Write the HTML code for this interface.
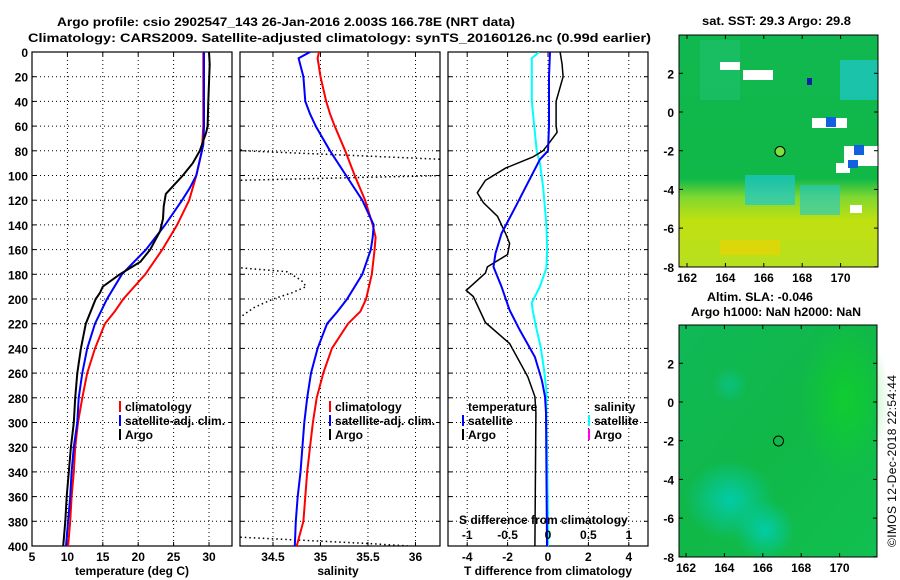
<!DOCTYPE html>
<html><head><meta charset="utf-8"><style>
html,body{margin:0;padding:0;background:#fff;width:900px;height:580px;overflow:hidden}
svg{display:block;font-family:"Liberation Sans",Arial,sans-serif}
.b{font-weight:bold;font-size:12px}
</style></head><body>
<svg id="fig" width="900" height="580" viewBox="0 0 900 580">
<defs>
<clipPath id="c1"><rect x="32" y="52" width="200" height="494"/></clipPath>
<clipPath id="c2"><rect x="240" y="52" width="200" height="494"/></clipPath>
<clipPath id="c3"><rect x="448" y="52" width="200" height="494"/></clipPath>
<linearGradient id="sstg" x1="0" y1="0" x2="0" y2="1">
<stop offset="0" stop-color="#10b850"/><stop offset="0.62" stop-color="#10b848"/>
<stop offset="0.7" stop-color="#80d830"/><stop offset="0.8" stop-color="#c0e010"/><stop offset="1" stop-color="#b8e020"/></linearGradient>
<linearGradient id="slag" x1="0" y1="0" x2="1" y2="1">
<stop offset="0" stop-color="#10b858"/><stop offset="0.5" stop-color="#10b848"/><stop offset="1" stop-color="#10c050"/></linearGradient>
<radialGradient id="cy1"><stop offset="0" stop-color="#00d0c0"/><stop offset="1" stop-color="#00d0c0" stop-opacity="0"/></radialGradient>
<radialGradient id="gr1"><stop offset="0" stop-color="#10d820"/><stop offset="1" stop-color="#10d820" stop-opacity="0"/></radialGradient>
</defs>
<text class="b" x="57" y="26" font-size="14" textLength="458" lengthAdjust="spacingAndGlyphs">Argo profile: csio 2902547_143 26-Jan-2016 2.003S 166.78E (NRT data)</text>
<text class="b" x="28" y="42" font-size="14" textLength="623" lengthAdjust="spacingAndGlyphs">Climatology: CARS2009. Satellite-adjusted climatology: synTS_20160126.nc (0.99d earlier)</text>
<g id="p1"></g>
<g id="p2"></g>
<g id="p3"></g>
<g>
<text class="b" x="702" y="25" textLength="149" lengthAdjust="spacingAndGlyphs" font-size="13">sat. SST: 29.3 Argo: 29.8</text>
<rect x="679" y="35" width="199" height="232" fill="url(#sstg)"/>
<rect x="700" y="40" width="40" height="60" fill="#20c070" opacity="0.6"/>
<rect x="840" y="60" width="38" height="40" fill="#20c8d0" opacity="0.7"/>
<rect x="745" y="175" width="50" height="30" fill="#20c8d0" opacity="0.7"/>
<rect x="800" y="185" width="40" height="30" fill="#20c8d0" opacity="0.6"/>
<rect x="720" y="240" width="60" height="15" fill="#f0d000" opacity="0.6"/>
<rect x="720" y="62" width="20" height="8" fill="#fff"/><rect x="743" y="70" width="30" height="10" fill="#fff"/>
<rect x="812" y="118" width="35" height="10" fill="#fff"/><rect x="844" y="146" width="34" height="20" fill="#fff"/>
<rect x="836" y="163" width="14" height="10" fill="#fff"/><rect x="850" y="205" width="12" height="8" fill="#fff"/>
<rect x="826" y="117" width="10" height="10" fill="#1060e0"/><rect x="854" y="145" width="10" height="10" fill="#1060e0"/>
<rect x="848" y="160" width="10" height="8" fill="#1060e0"/><rect x="807" y="78" width="5" height="7" fill="#0020a0"/>
<rect x="679" y="35" width="199" height="232" fill="none" stroke="#000" stroke-width="1"/>
<circle cx="780" cy="151.5" r="5" fill="#80e040" stroke="#000" stroke-width="1"/>
<g id="m1"></g>
</g>
<g>
<text class="b" x="707" y="301" textLength="106" lengthAdjust="spacingAndGlyphs" font-size="13">Altim. SLA: -0.046</text>
<text class="b" x="691" y="316" textLength="170" lengthAdjust="spacingAndGlyphs" font-size="13">Argo h1000: NaN h2000: NaN</text>
<rect x="679" y="325" width="198" height="232" fill="url(#slag)"/>
<ellipse cx="730" cy="500" rx="45" ry="40" fill="url(#cy1)" opacity="0.8"/>
<ellipse cx="765" cy="530" rx="30" ry="30" fill="url(#cy1)" opacity="0.8"/>
<ellipse cx="730" cy="385" rx="18" ry="18" fill="url(#cy1)" opacity="0.4"/>
<ellipse cx="845" cy="400" rx="45" ry="80" fill="url(#gr1)" opacity="0.6"/>
<rect x="679" y="325" width="198" height="232" fill="none" stroke="#000" stroke-width="1"/>
<circle cx="778.5" cy="441" r="5" fill="none" stroke="#000" stroke-width="1"/>
<g id="m2"></g>
</g>
<text x="0" y="0" font-size="12" transform="translate(896,547) rotate(-90)" textLength="172">©IMOS 12-Dec-2018 22:54:44</text>
</svg>
<script>
// ---- data ----
const tDepth = [0,10,40,60,65,80,90,100,115,125,135,145,160,170,180,190,195,200,220,240,260,280,300,320,340,360,380,400];
const tArgo  = [30.0,30.1,29.9,29.8,29.6,28.7,27.7,26.3,23.9,23.6,23.5,23.1,21.7,20.3,17.4,15.0,14.6,14.0,12.6,11.9,11.4,11.1,10.9,10.5,10.2,9.9,9.7,9.4];
const cDepth = [0,60,80,100,120,140,160,180,200,210,220,240,260,280,300,320,340,360,380,400];
const tClim  = [29.2,29.2,29.0,28.2,27.2,25.5,23.4,21.0,17.9,16.7,15.3,13.9,12.8,12.1,11.5,11.1,10.9,10.6,10.4,10.1];
const sDepth = [0,60,75,90,100,110,120,140,160,180,200,220,240,260,280,300,320,340,360,380,400];
const tSat   = [29.3,29.3,29.2,28.6,28.2,27.3,26.2,23.8,21.1,17.7,15.6,13.9,12.8,12.1,11.6,11.4,10.9,10.6,10.4,10.1,9.8];
const salDepth = [0,5,20,40,50,60,80,100,120,140,150,160,180,200,210,220,240,260,280,300,320,340,360,380,400];
const salClim  = [34.985,34.97,35.0,35.06,35.10,35.15,35.26,35.36,35.47,35.55,35.58,35.57,35.54,35.48,35.42,35.29,35.12,35.03,34.96,34.92,34.89,34.86,34.84,34.82,34.75];
const salSat   = [34.89,34.77,34.82,34.84,34.89,34.95,35.10,35.27,35.44,35.56,35.55,35.53,35.44,35.28,35.18,35.07,34.97,34.90,34.86,34.83,34.81,34.79,34.76,34.74,34.73];
const argoSalDepth = [60,80,87,95,100,104,110,170,175,178,185,190,195,200,207,215,230,390,393,398,405];
const argoSal      = [33,34.2,36.3,38,36.3,34.1,33,33,34.2,34.65,34.8,34.85,34.7,34.5,34.3,34.15,33,33,34.2,35.5,37];
const dDepth = [0,10,20,40,60,65,75,80,85,94,104,114,122,133,147,155,164,174,179,193,198,219,236,263,279,292,400];
const dTArgo = [0.6,0.7,0.75,0.4,0.4,0.45,0,-0.25,-0.75,-2.1,-3.1,-3.5,-3.2,-2.5,-2.1,-1.9,-2.0,-3.0,-3.1,-4.05,-3.7,-3.1,-1.9,-1.0,-0.65,-0.6,-0.65];
const dsDepth = [0,20,60,80,87,106,125,147,163,174,190,209,225,247,266,279,292,400];
const dTSat   = [0.1,0.05,0.05,0,-0.4,-1.0,-1.6,-2.3,-2.6,-2.7,-2.3,-1.9,-1.4,-0.65,-0.3,-0.15,-0.1,-0.05];
const dsSDepth = [0,5,40,80,90,110,140,160,175,190,203,209,225,239,257,274,292,333,373,400];
const dSSat    = [-0.11,-0.2,-0.2,-0.14,-0.1,-0.06,-0.02,-0.01,-0.02,-0.1,-0.2,-0.19,-0.14,-0.09,-0.05,-0.02,-0.02,-0.01,0,0];
const depthTicks = [0,20,40,60,80,100,120,140,160,180,200,220,240,260,280,300,320,340,360,380,400];
const tTicks = [5,10,15,20,25,30];
const sTicks = [34.5,35,35.5,36];
const sTickLabels = ["34.5","35","35.5","36"];
const dTicks = [-4,-2,0,2,4];
const dsTicks = [-1,-0.5,0,0.5,1];
const dsTickLabels = ["-1","-0.5","0","0.5","1"];
const latTicks = [2,0,-2,-4,-6,-8];
const lonTicks = [162,164,166,168,170];

const NS="http://www.w3.org/2000/svg";
function mk(parent,tag,attrs,txt){const e=document.createElementNS(NS,tag);for(const k in attrs)e.setAttribute(k,attrs[k]);if(txt!==undefined)e.textContent=txt;parent.appendChild(e);return e;}
const Y=d=>52+d*494/400;
const X1=t=>32+(t-5)*7.08;
const X2=s=>240+(s-34.153)*95;
const X3=d=>548+d*20.2;
const X3s=s=>548+s*80.8;

function panel(g,x0,clip,xt,xf,labels,title,tx){
  const grid=mk(g,'g',{});
  
  
  depthTicks.forEach(d=>{ if(d>0&&d<400) mk(grid,'line',{x1:x0,x2:x0+200,y1:Y(d),y2:Y(d),stroke:'#000','stroke-dasharray':'1,3'});
    mk(grid,'line',{x1:x0,x2:x0+4,y1:Y(d),y2:Y(d),stroke:'#000'});mk(grid,'line',{x1:x0+196,x2:x0+200,y1:Y(d),y2:Y(d),stroke:'#000'});});
  xt.forEach((t,i)=>{const x=xf(t); if(x>x0+1) mk(grid,'line',{x1:x,x2:x,y1:52,y2:546,stroke:'#000','stroke-dasharray':'1,3'});
    mk(grid,'line',{x1:x,x2:x,y1:542,y2:546,stroke:'#000'});mk(grid,'line',{x1:x,x2:x,y1:52,y2:56,stroke:'#000'});
    const l=mk(g,'text',{x:x,y:561,'text-anchor':'middle',class:'b'},labels[i]);
    
    });
  const r=mk(g,'rect',{x:x0,y:52,width:200,height:494,fill:'none',stroke:'#000','stroke-width':1.2});
  
  
  const tt=mk(g,'text',{x:tx,y:575,'text-anchor':'middle',class:'b'},title);
  
  
}
function line(g,clip,depths,vals,xf,color,w,name,dash){
  const pts=depths.map((d,i)=>xf(vals[i]).toFixed(1)+','+Y(d).toFixed(1)).join(' ');
  const a={points:pts,fill:'none',stroke:color,'stroke-width':w,'clip-path':'url(#'+clip+')'};
  if(dash)a['stroke-dasharray']=dash;
  const p=mk(g,'polyline',a);
  
  
}
function legend(g,x,y,color,txt,name){
  if(color) mk(g,'rect',{x:x-6,y:y-10,width:2,height:11,fill:color});
  const t=mk(g,'text',{x:x,y:y,class:'b'},txt);
  
  
}
const p1=document.getElementById('p1'),p2=document.getElementById('p2'),p3=document.getElementById('p3');
depthTicks.forEach(d=>{const t=mk(p1,'text',{x:28,y:Y(d)+5,'text-anchor':'end',class:'b'},String(d));
  
  });
panel(p1,32,'c1',tTicks,X1,tTicks.map(String),'temperature (deg C)',132);
line(p1,'c1',cDepth,tClim,X1,'#f00',2,'temp-climatology-line');
line(p1,'c1',sDepth,tSat,X1,'#00f',2,'temp-satellite-line');
line(p1,'c1',tDepth,tArgo,X1,'#000',2,'temp-argo-line');
legend(p1,125,411,'#f00','climatology','legend-climatology');
legend(p1,125,425,'#00f','satellite-adj. clim.','legend-satellite');
legend(p1,125,439,'#000','Argo','legend-argo');

panel(p2,240,'c2',sTicks,X2,sTickLabels,'salinity',338);
line(p2,'c2',argoSalDepth,argoSal,X2,'#000',1.5,'salinity-argo-line','1.5,3');
line(p2,'c2',salDepth,salClim,X2,'#f00',2,'salinity-climatology-line');
line(p2,'c2',salDepth,salSat,X2,'#00f',2,'salinity-satellite-line');
legend(p2,335,411,'#f00','climatology','legend-climatology');
legend(p2,335,425,'#00f','satellite-adj. clim.','legend-satellite');
legend(p2,335,439,'#000','Argo','legend-argo');

panel(p3,448,'c3',dTicks,X3,dTicks.map(String),'T difference from climatology',548);
line(p3,'c3',dsSDepth,dSSat,X3s,'#0ff',2,'sal-diff-satellite-line');
line(p3,'c3',dDepth,dTArgo,X3,'#000',1.5,'temp-diff-argo-line');
line(p3,'c3',dsDepth,dTSat,X3,'#00f',2,'temp-diff-satellite-line');
legend(p3,468,411,null,'temperature','legend-temperature-heading');
legend(p3,468,425,'#00f','satellite','legend-temp-satellite');
legend(p3,468,439,'#000','Argo','legend-temp-argo');
legend(p3,594,411,null,'salinity','legend-salinity-heading');
legend(p3,594,425,'#0ff','satellite','legend-sal-satellite');
legend(p3,594,439,'#f0f','Argo','legend-sal-argo');
const st=mk(p3,'text',{x:459,y:524,class:'b'},'S difference from climatology');


dsTicks.forEach((s,i)=>{const t=mk(p3,'text',{x:X3s(s),y:539,'text-anchor':'middle',class:'b'},dsTickLabels[i]);
  
  });

function mapAxes(g,x0,x1,y0,y1,lat2y,lon2x){
  latTicks.forEach(l=>{const y=lat2y(l);mk(g,'line',{x1:x0,x2:x0+4,y1:y,y2:y,stroke:'#000'});mk(g,'line',{x1:x1-4,x2:x1,y1:y,y2:y,stroke:'#000'});
    const t=mk(g,'text',{x:x0-5,y:y+5,'text-anchor':'end',class:'b'},String(l));
    
    });
  lonTicks.forEach(l=>{const x=lon2x(l);mk(g,'line',{x1:x,x2:x,y1:y0,y2:y0+4,stroke:'#000'});mk(g,'line',{x1:x,x2:x,y1:y1-4,y2:y1,stroke:'#000'});
    const t=mk(g,'text',{x:x,y:y1+15,'text-anchor':'middle',class:'b'},String(l));
    
    });
}
mapAxes(document.getElementById('m1'),679,878,35,267,l=>112-l*19.35,l=>687+(l-162)*19.2);
mapAxes(document.getElementById('m2'),679,877,325,557,l=>402-l*19.35,l=>686+(l-162)*19.2);
</script>
</body></html>
